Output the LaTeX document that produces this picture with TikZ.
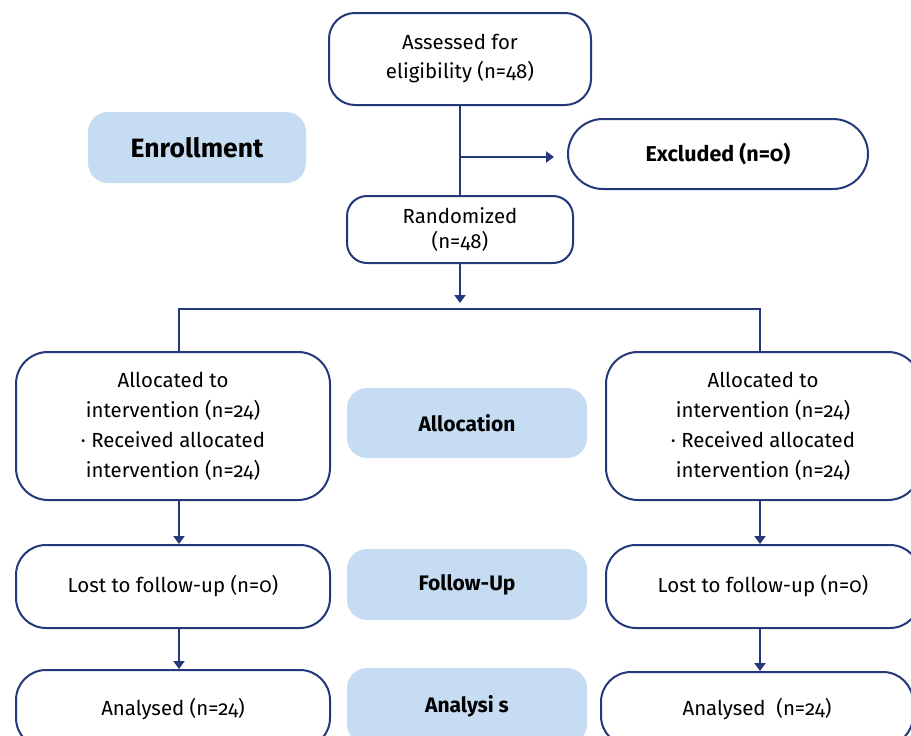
\documentclass[tikz,border=0pt]{standalone}
\usepackage{fontspec}
\setmainfont[Numbers=OldStyle]{Fira Sans}
\usetikzlibrary{arrows.meta}
\definecolor{navy}{RGB}{36,56,122}
\definecolor{lblue}{RGB}{197,220,242}
\begin{document}
\begin{tikzpicture}[x=1pt,y=-1pt,
  flowbox/.style={draw=navy, line width=2pt, rounded corners=26pt, inner sep=0pt, align=center, font=\fontsize{20.4}{30}\selectfont},
  stagebox/.style={fill=lblue, rounded corners=20pt, inner sep=0pt, align=center, font=\fontsize{21}{24}\selectfont\bfseries},
  conn/.style={draw=navy, line width=2.8pt},
  arr/.style={conn, -{Triangle[length=8pt,width=11pt]}}]
\useasboundingbox (0,0) rectangle (911,736);
\clip (0,0) rectangle (911,736);
% nodes
\node[flowbox, minimum width=262pt, minimum height=92pt, font=\fontsize{20.4}{29}\selectfont] (ass) at (460,59) {Assessed for\\eligibility (n=48)};
\node[stagebox, minimum width=218pt, minimum height=71pt, font=\fontsize{26.5}{28}\selectfont\bfseries] (enr) at (197,147.5) {Enrollment};
\node[flowbox, rounded corners=35pt, minimum width=300pt, minimum height=70pt, font=\fontsize{21.5}{24}\selectfont\bfseries] (ex) at (718,154) {Excluded (n=0)};
\node[flowbox, rounded corners=20pt, minimum width=226pt, minimum height=67pt, font=\fontsize{20.4}{25}\selectfont] (rand) at (460,229.5) {Randomized\\(n=48)};
\node[flowbox, rounded corners=32pt, minimum width=314pt, minimum height=148pt] (la) at (173,426) {Allocated to\\intervention (n=24)\\\textperiodcentered\ Received allocated\\intervention (n=24)};
\node[stagebox, minimum width=240pt, minimum height=70pt] (alloc) at (467,423) {Allocation};
\node[flowbox, rounded corners=32pt, minimum width=314pt, minimum height=148pt] (ra) at (763,426) {Allocated to\\intervention (n=24)\\\textperiodcentered\ Received allocated\\intervention (n=24)};
\node[flowbox, rounded corners=30pt, minimum width=314pt, minimum height=83pt] (ll) at (173,586.5) {Lost to follow-up (n=0)};
\node[stagebox, minimum width=240pt, minimum height=71pt] (fu) at (467,584.5) {Follow-Up};
\node[flowbox, rounded corners=30pt, minimum width=314pt, minimum height=83pt] (rl) at (763,586.5) {Lost to follow-up (n=0)};
\node[flowbox, rounded corners=30pt, minimum width=314pt, minimum height=78pt] (lan) at (173,709) {Analysed (n=24)};
\node[stagebox, minimum width=240pt, minimum height=76pt] (an) at (467,706) {Analysi s};
\node[flowbox, rounded corners=30pt, minimum width=312pt, minimum height=74pt] (ran) at (757,709) {Analysed\ \ (n=24)};
% connectors
\coordinate (br) at (460,157);
\coordinate (sp) at (460,309);
\coordinate (cl) at (179,309);
\coordinate (cr) at (760,309);
\draw[conn] (ass.south) -- (rand.north);
\draw[arr, shorten >=13pt] (br) -- (br -| ex.west);
\draw[arr, shorten >=6pt] (rand.south) -- (sp);
\draw[conn] (cl |- la.north) -- (cl) -- (cr) -- (cr |- ra.north);
\draw[arr] (cl |- la.south) -- (cl |- ll.north);
\draw[arr] (cr |- ra.south) -- (cr |- rl.north);
\draw[arr] (cl |- ll.south) -- (cl |- lan.north);
\draw[arr] (cr |- rl.south) -- (cr |- ran.north);
\end{tikzpicture}
\end{document}
